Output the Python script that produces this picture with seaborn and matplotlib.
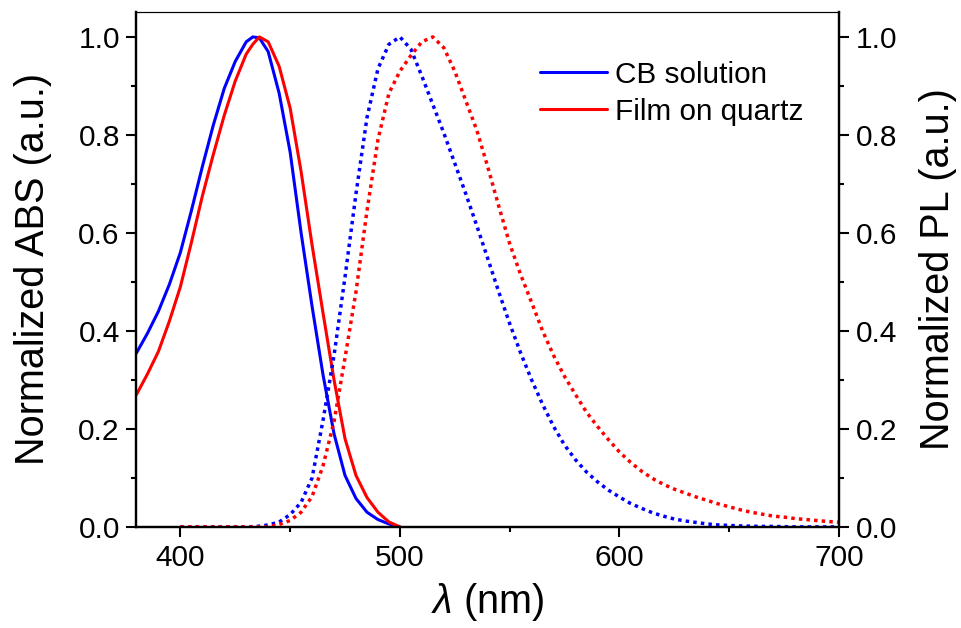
import pandas as pd
import matplotlib.pyplot as plt
import seaborn as sns
from matplotlib.ticker import MultipleLocator

# absorption spectra (normalized)
abs_wl = [380, 385, 390, 395, 400, 405, 410, 415, 420, 425, 430, 433, 436, 440,
          445, 450, 455, 460, 465, 470, 475, 480, 485, 490, 495, 500]
abs_cb = [0.355, 0.395, 0.44, 0.495, 0.56, 0.645, 0.735, 0.82, 0.895, 0.95, 0.99, 1.0, 0.998, 0.97,
          0.885, 0.765, 0.60, 0.45, 0.31, 0.19, 0.105, 0.058, 0.03, 0.015, 0.006, 0.0]
abs_film = [0.27, 0.312, 0.358, 0.42, 0.49, 0.58, 0.675, 0.76, 0.84, 0.91, 0.965, 0.985, 1.0, 0.99,
            0.94, 0.855, 0.725, 0.575, 0.436, 0.30, 0.18, 0.105, 0.06, 0.03, 0.01, 0.0]

# photoluminescence spectra (normalized), 400-700 nm every 5 nm
pl_wl = list(range(400, 705, 5))
pl_cb = [0, 0, 0, 0, 0, 0, 0, 0.001, 0.004, 0.01,
         0.025, 0.05, 0.10, 0.218, 0.35, 0.51, 0.68, 0.835, 0.935, 0.985,
         1.0, 0.975, 0.92, 0.862, 0.804, 0.742, 0.68, 0.615, 0.548, 0.48,
         0.415, 0.355, 0.30, 0.25, 0.205, 0.167, 0.137, 0.112, 0.092, 0.075,
         0.061, 0.048, 0.038, 0.029, 0.022, 0.016, 0.012, 0.009, 0.006, 0.004,
         0.003, 0.002, 0.0015, 0.001, 0.001, 0.0005, 0, 0, 0, 0, 0]
pl_film = [0, 0, 0, 0, 0, 0, 0, 0, 0, 0.005,
           0.013, 0.03, 0.062, 0.125, 0.215, 0.345, 0.48, 0.645, 0.79, 0.885,
           0.93, 0.962, 0.99, 1.0, 0.978, 0.93, 0.87, 0.81, 0.735, 0.655,
           0.578, 0.515, 0.458, 0.40, 0.35, 0.307, 0.27, 0.234, 0.205, 0.178,
           0.153, 0.132, 0.114, 0.099, 0.087, 0.077, 0.069, 0.061, 0.054, 0.047,
           0.041, 0.035, 0.030, 0.026, 0.022, 0.02, 0.017, 0.015, 0.013, 0.011, 0.0095]

sns.set_theme(style='white')
plt.rcParams['font.family'] = ['Liberation Sans', 'DejaVu Sans']
plt.rcParams['mathtext.fontset'] = 'custom'
plt.rcParams['mathtext.it'] = 'Liberation Sans:italic'
plt.rcParams['mathtext.rm'] = 'Liberation Sans'
plt.rcParams['text.color'] = 'black'
plt.rcParams['axes.labelcolor'] = 'black'
plt.rcParams['xtick.color'] = 'black'
plt.rcParams['ytick.color'] = 'black'

blue = '#0000ff'
red = '#ff0000'

fig = plt.figure(figsize=(9.61, 6.28), dpi=100)
ax = fig.add_axes([0.142, 0.161, 0.731, 0.820])
ax2 = ax.twinx()

sns.lineplot(x=abs_wl, y=abs_cb, ax=ax, color=blue, lw=2.2, label='CB solution')
sns.lineplot(x=abs_wl, y=abs_film, ax=ax, color=red, lw=2.2, label='Film on quartz')
sns.lineplot(x=pl_wl, y=pl_cb, ax=ax2, color=blue, lw=2.5, linestyle=(0, (1, 1.2)))
sns.lineplot(x=pl_wl, y=pl_film, ax=ax2, color=red, lw=2.5, linestyle=(0, (1, 1.2)))

for a in (ax, ax2):
    a.set_xlim(380, 700)
    a.set_ylim(0, 1.051)
    a.yaxis.set_major_locator(MultipleLocator(0.2))
    a.yaxis.set_minor_locator(MultipleLocator(0.1))
    for s in ['left', 'right', 'bottom']:
        a.spines[s].set_linewidth(1.6)
        a.spines[s].set_color('black')
    a.spines['top'].set_linewidth(0.8)
    a.spines['top'].set_color('black')

ax.xaxis.set_major_locator(MultipleLocator(100))
ax.xaxis.set_minor_locator(MultipleLocator(50))

ax.tick_params(axis='both', which='major', direction='out', length=7, width=1.5,
               labelsize=21.5, pad=5, bottom=True, left=True, right=False, top=False)
ax.tick_params(axis='both', which='minor', direction='out', length=3.5, width=1.5,
               bottom=True, left=True, right=False, top=False)
ax2.tick_params(axis='y', which='major', direction='out', length=7, width=1.5,
                labelsize=21.5, pad=5, right=True, left=False)
ax2.tick_params(axis='y', which='minor', direction='out', length=3.5, width=1.5,
                right=True, left=False)

ax.set_xlabel(r'$\lambda$ (nm)', fontsize=28.5, labelpad=7)
ax.set_ylabel('Normalized ABS (a.u.)', fontsize=28.5, labelpad=19)
ax2.set_ylabel('Normalized PL (a.u.)', fontsize=28.5, labelpad=16)

h, l = ax.get_legend_handles_labels()
ax.get_legend().remove()
ax2.legend(h, l, loc='upper left', bbox_to_anchor=(0.574, 0.905), frameon=False,
           fontsize=21.4, handlelength=2.25, handletextpad=0.3, labelspacing=0.3,
           borderpad=0, borderaxespad=0)

fig.savefig('out.png', dpi=100)
